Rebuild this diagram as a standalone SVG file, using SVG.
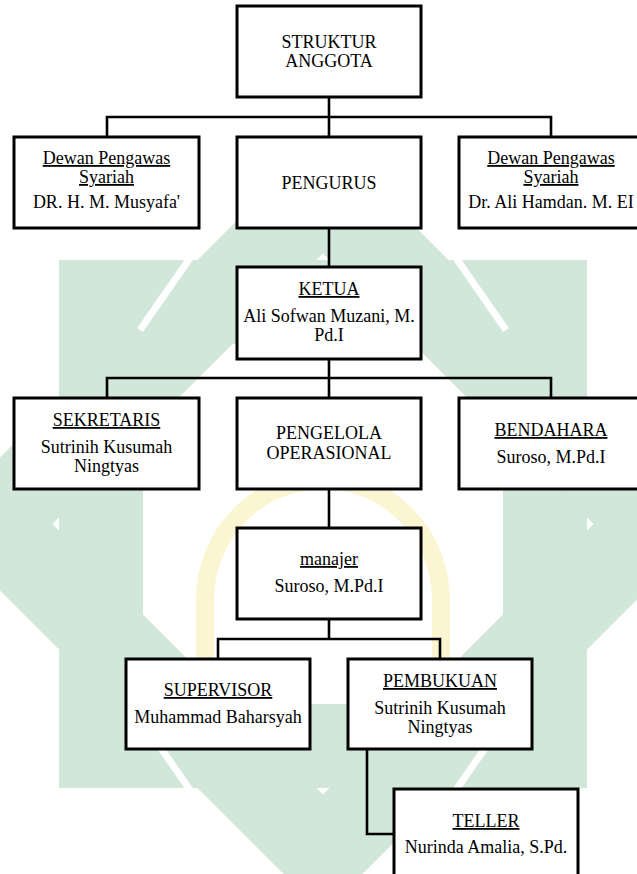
<svg xmlns="http://www.w3.org/2000/svg" width="637" height="874" viewBox="0 0 637 874">
<style>
.box{fill:#fff;stroke:#000;stroke-width:3}
.ln{fill:none;stroke:#000;stroke-width:2.6}
text{font-family:"Liberation Serif","Times New Roman",serif;font-size:18px;fill:#000;text-anchor:middle}
.u{text-decoration:underline}
.wm{fill:none;stroke:#d0e7d9;stroke-width:84}
.wg{fill:none;stroke:#fff;stroke-width:7}
.wy{fill:none;stroke:#fbf5d2;stroke-width:18}
</style>
<rect width="637" height="874" fill="#fff"/>
<g id="watermark">
<rect class="wm" x="101" y="302" width="444" height="444"/>
<polygon class="wm" points="323,194 653,524 323,854 -7,524"/>
<path class="wg" d="M190,258L140,330M456,258L506,330M140,718L190,790M506,718L456,790"/>
<path class="wy" d="M205,700 V600 A118,120 0 0 1 441,600 V700"/>
</g>
<g id="connectors">
<path class="ln" d="M329,97V137M107,137V117H551V137"/>
<path class="ln" d="M329,228V267"/>
<path class="ln" d="M329,359V398M107,398V378H551V398"/>
<path class="ln" d="M329,489V528"/>
<path class="ln" d="M329,619V639M218,659V639H440V659"/>
<path class="ln" d="M367,749V834H394"/>
</g>
<g id="struktur"><rect class="box" x="237" y="6" width="184" height="91"/>
<text x="329" y="48">STRUKTUR</text><text x="329" y="67">ANGGOTA</text></g>
<g id="dps1"><rect class="box" x="14" y="137" width="185" height="91"/>
<text class="u" x="106.5" y="164">Dewan Pengawas</text><text class="u" x="106.5" y="183">Syariah</text><text x="106.5" y="208">DR. H. M. Musyafa'</text></g>
<g id="pengurus"><rect class="box" x="237" y="137" width="184" height="91"/>
<text x="329" y="189">PENGURUS</text></g>
<g id="dps2"><rect class="box" x="459" y="137" width="185" height="91"/>
<text class="u" x="551" y="164">Dewan Pengawas</text><text class="u" x="551" y="183">Syariah</text><text x="551" y="208">Dr. Ali Hamdan. M. EI</text></g>
<g id="ketua"><rect class="box" x="237" y="267" width="184" height="92"/>
<text class="u" x="329" y="295">KETUA</text><text x="329" y="322">Ali Sofwan Muzani, M.</text><text x="329" y="341">Pd.I</text></g>
<g id="sekretaris"><rect class="box" x="14" y="398" width="185" height="91"/>
<text class="u" x="106.5" y="426">SEKRETARIS</text><text x="106.5" y="453">Sutrinih Kusumah</text><text x="106.5" y="472">Ningtyas</text></g>
<g id="pengelola"><rect class="box" x="237" y="398" width="184" height="91"/>
<text x="329" y="439">PENGELOLA</text><text x="329" y="459">OPERASIONAL</text></g>
<g id="bendahara"><rect class="box" x="459" y="398" width="185" height="91"/>
<text class="u" x="551" y="436">BENDAHARA</text><text x="551" y="463">Suroso, M.Pd.I</text></g>
<g id="manajer"><rect class="box" x="237" y="528" width="184" height="91"/>
<text class="u" x="329" y="565">manajer</text><text x="329" y="592">Suroso, M.Pd.I</text></g>
<g id="supervisor"><rect class="box" x="126" y="659" width="184" height="90"/>
<text class="u" x="218" y="696">SUPERVISOR</text><text x="218" y="723">Muhammad Baharsyah</text></g>
<g id="pembukuan"><rect class="box" x="348" y="659" width="184" height="90"/>
<text class="u" x="440" y="687">PEMBUKUAN</text><text x="440" y="714">Sutrinih Kusumah</text><text x="440" y="733">Ningtyas</text></g>
<g id="teller"><rect class="box" x="394" y="789" width="184" height="91"/>
<text class="u" x="486" y="827">TELLER</text><text x="486" y="853">Nurinda Amalia, S.Pd.</text></g>
</svg>
